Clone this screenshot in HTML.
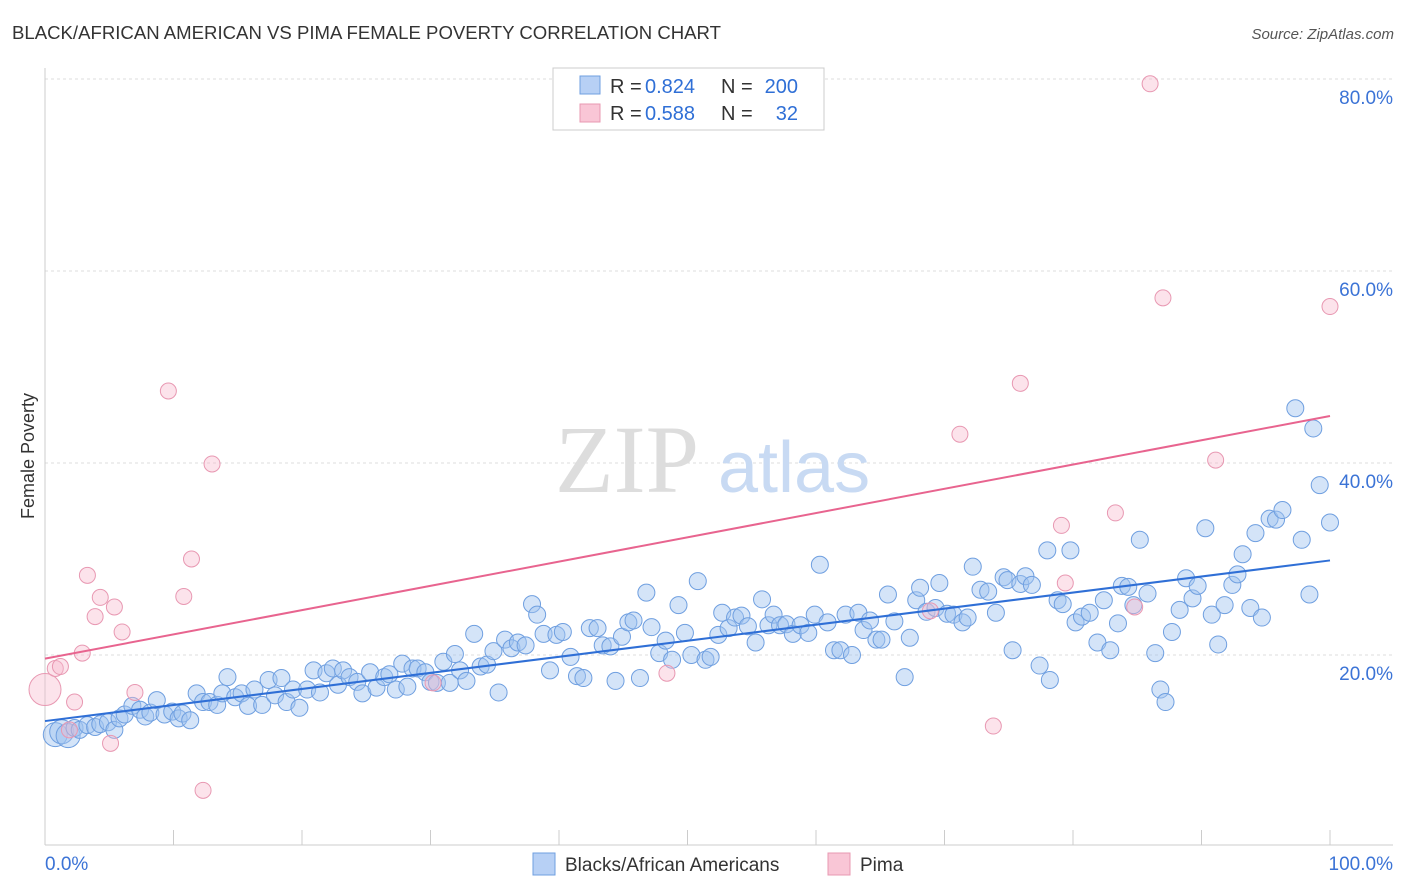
<!DOCTYPE html>
<html><head><meta charset="utf-8"><style>
body{margin:0;background:#fff;font-family:"Liberation Sans",sans-serif;}
#wrap{position:relative;width:1406px;height:892px;overflow:hidden;}
</style></head><body>
<div id="wrap">
<svg id="svg" width="1406" height="892" xmlns="http://www.w3.org/2000/svg">
<text x="12" y="39" font-size="18" fill="#333" textLength="709" lengthAdjust="spacingAndGlyphs">BLACK/AFRICAN AMERICAN VS PIMA FEMALE POVERTY CORRELATION CHART</text>
<text x="1394" y="39" font-size="15" fill="#555" font-style="italic" text-anchor="end">Source: ZipAtlas.com</text>
<text transform="translate(34,456) rotate(-90)" font-size="18" fill="#333" text-anchor="middle">Female Poverty</text>
<g id="grid"></g>
<text x="555" y="492" font-size="96" fill="#ddd" font-family="Liberation Serif,serif">ZIP</text>
<text x="718" y="492" font-size="72" fill="#c8daf3">atlas</text>
<g id="pts"></g>
<g id="lines"></g>
<g>
<rect x="553" y="68" width="271" height="62" fill="#fff" stroke="#ccc"/>
<rect x="580" y="76" width="20" height="18" fill="#b7d0f5" stroke="#6f9fe0"/>
<rect x="580" y="104" width="20" height="18" fill="#f9c6d6" stroke="#e898b2"/>
<text x="610" y="93" font-size="20" fill="#333">R =</text>
<text x="645" y="93" font-size="20" fill="#2f6fd6">0.824</text>
<text x="721" y="93" font-size="20" fill="#333">N =</text>
<text x="798" y="93" font-size="20" fill="#2f6fd6" text-anchor="end">200</text>
<text x="610" y="120" font-size="20" fill="#333">R =</text>
<text x="645" y="120" font-size="20" fill="#2f6fd6">0.588</text>
<text x="721" y="120" font-size="20" fill="#333">N =</text>
<text x="798" y="120" font-size="20" fill="#2f6fd6" text-anchor="end">32</text>
</g>
<g>
<rect x="533" y="853" width="22" height="22" fill="#b7d0f5" stroke="#6f9fe0"/>
<text x="565" y="871" font-size="19" fill="#333">Blacks/African Americans</text>
<rect x="828" y="853" width="22" height="22" fill="#f9c6d6" stroke="#e898b2"/>
<text x="860" y="871" font-size="19" fill="#333">Pima</text>
</g>
</svg>
</div>
<script>
const yTicks=[20,40,60,80];
const blueX=[0.8,1.3,1.8,2.3,2.7,3.3,3.9,4.3,4.9,5.4,5.8,6.2,6.8,7.4,7.8,8.2,8.7,9.3,9.9,10.4,10.7,11.3,11.8,12.3,12.8,13.4,13.8,14.2,14.8,15.3,15.8,16.3,16.9,17.4,17.9,18.4,18.8,19.3,19.8,20.4,20.9,21.4,21.9,22.4,22.8,23.2,23.7,24.3,24.7,25.3,25.8,26.4,26.8,27.3,27.8,28.2,28.6,29.0,29.6,30.0,30.5,31.0,31.5,31.9,32.3,32.8,33.4,33.9,34.4,34.9,35.3,35.8,36.3,36.8,37.4,37.9,38.3,38.8,39.3,39.8,40.3,40.9,41.4,41.9,42.4,43.0,43.4,44.0,44.4,44.9,45.4,45.8,46.3,46.8,47.2,47.8,48.3,48.8,49.3,49.8,50.3,50.8,51.4,51.8,52.4,52.7,53.2,53.7,54.2,54.7,55.3,55.8,56.3,56.7,57.2,57.7,58.2,58.8,59.4,59.9,60.3,60.9,61.4,61.9,62.3,62.8,63.3,63.7,64.2,64.7,65.1,65.6,66.1,66.9,67.3,67.8,68.1,68.6,69.3,69.6,70.2,70.7,71.4,71.8,72.2,72.8,73.4,74.0,74.6,74.9,75.3,75.9,76.3,76.8,77.4,78.0,78.2,78.8,79.2,79.8,80.2,80.7,81.3,81.9,82.4,82.9,83.5,83.8,84.3,84.7,85.2,85.8,86.4,86.8,87.2,87.7,88.3,88.8,89.3,89.7,90.3,90.8,91.3,91.8,92.4,92.8,93.2,93.8,94.2,94.7,95.3,95.8,96.3,97.3,97.8,98.4,98.7,99.2,100];
const blueY=[11.7,12.0,11.6,12.4,12.2,12.7,12.5,12.8,13.0,12.2,13.4,13.8,14.7,14.3,13.6,14.0,15.3,13.8,14.1,13.4,13.9,13.2,16.0,15.1,15.1,14.8,16.0,17.7,15.6,16.0,14.7,16.4,14.8,17.4,15.8,17.6,15.1,16.4,14.5,16.4,18.4,16.1,18.1,18.6,16.9,18.4,17.7,17.2,16.0,18.2,16.6,17.7,18.0,16.4,19.1,16.7,18.6,18.6,18.2,17.2,17.1,19.3,17.1,20.1,18.4,17.3,22.2,18.8,19.0,20.4,16.1,21.6,20.7,21.3,21.0,25.3,24.2,22.2,18.4,22.1,22.4,19.8,17.8,17.6,22.8,22.8,21.0,20.9,17.3,21.9,23.4,23.6,17.6,26.5,22.9,20.2,21.5,19.5,25.2,22.3,20.0,27.7,19.5,19.8,22.1,24.4,22.8,23.9,24.1,23.0,21.3,25.8,23.1,24.2,23.1,23.2,22.2,23.1,22.3,24.2,29.4,23.4,20.5,20.5,24.2,20.0,24.4,22.6,23.6,21.6,21.6,26.3,23.5,17.7,21.8,25.7,27.0,24.5,24.9,27.5,24.3,24.2,23.4,23.9,29.2,26.8,26.6,24.4,28.1,27.8,20.5,27.4,28.2,27.3,18.9,30.9,17.4,25.7,25.3,30.9,23.4,24.0,24.4,21.3,25.7,20.5,23.3,27.2,27.1,25.2,32.0,26.4,20.2,16.4,15.1,22.4,24.7,28.0,25.9,27.2,33.2,24.2,21.1,25.2,27.3,28.4,30.5,24.9,32.7,23.9,34.2,34.1,35.1,45.7,32.0,26.3,43.6,37.7,33.8];
const pimaX=[0,0.8,1.2,1.9,2.3,2.9,3.3,3.9,4.3,5.1,5.4,6.0,7.0,9.6,10.8,11.4,12.3,13.0,30.2,48.4,68.9,71.2,73.8,75.9,79.1,79.4,83.3,84.8,86.0,87.0,91.1,100];
const pimaY=[16.4,18.6,18.8,12.2,15.1,20.2,28.3,24.0,26.0,10.8,25.0,22.4,16.1,47.5,26.1,30.0,5.9,39.9,17.1,18.1,24.6,43.0,12.6,48.3,33.5,27.5,34.8,25.0,79.5,57.2,40.3,56.3];
const NS="http://www.w3.org/2000/svg";
const X0=45,X1=1330,Y0=847,PPY=9.6;
function sx(v){return X0+(X1-X0)*v/100;}
function sy(v){return Y0-v*PPY;}
function mk(tag,attrs,parent){const e=document.createElementNS(NS,tag);for(const k in attrs)e.setAttribute(k,attrs[k]);parent.appendChild(e);return e;}
const grid=document.getElementById('grid');
yTicks.forEach(t=>{
  const l=mk('line',{x1:45,x2:1393,y1:sy(t),y2:sy(t),stroke:'#ddd','stroke-dasharray':'3,3'},grid);
  
  
  const tx=mk('text',{x:1393,y:sy(t)+25,'font-size':19,fill:'#3b73d6','text-anchor':'end'},grid);
  tx.textContent=t.toFixed(1)+'%';
  
  
});
const ax=mk('line',{x1:45,x2:1393,y1:845,y2:845,stroke:'#ccc'},grid);


const ay=mk('line',{x1:45,x2:45,y1:68,y2:845,stroke:'#ccc'},grid);


for(let i=0;i<=10;i++){
  const t=mk('line',{x1:sx(i*10),x2:sx(i*10),y1:830,y2:845,stroke:'#ccc'},grid);
  
  
}
const xl0=mk('text',{x:45,y:870,'font-size':19,fill:'#3b73d6'},grid);xl0.textContent='0.0%';


const xl1=mk('text',{x:1393,y:870,'font-size':19,fill:'#3b73d6','text-anchor':'end'},grid);xl1.textContent='100.0%';


const pts=document.getElementById('pts');
blueX.forEach((x,i)=>{
  const c=mk('circle',{cx:sx(x),cy:sy(blueY[i]),r:i<3?12:8.5,fill:'rgba(160,195,240,0.45)',stroke:'#6f9fe0','stroke-width':1},pts);
  
  
});
pimaX.forEach((x,i)=>{
  const c=mk('circle',{cx:sx(x),cy:sy(pimaY[i]),r:i==0?16:8,fill:'rgba(248,185,205,0.4)',stroke:'#e898b2','stroke-width':1},pts);
  
  
});
function fit(xs,ys){const n=xs.length;let mx=0,my=0;for(let i=0;i<n;i++){mx+=xs[i];my+=ys[i];}mx/=n;my/=n;let sxy=0,sxx=0;for(let i=0;i<n;i++){sxy+=(xs[i]-mx)*(ys[i]-my);sxx+=(xs[i]-mx)**2;}const b=sxy/sxx;return [my-b*mx,b];}
const lines=document.getElementById('lines');
const fb=fit(blueX,blueY),fp=fit(pimaX,pimaY);
const lb=mk('line',{x1:sx(0),y1:sy(fb[0]),x2:sx(100),y2:sy(fb[0]+100*fb[1]),stroke:'#2f6fd6','stroke-width':2},lines);


const lp=mk('line',{x1:sx(0),y1:sy(fp[0]),x2:sx(100),y2:sy(fp[0]+100*fp[1]),stroke:'#e8648f','stroke-width':2},lines);


</script>
</body></html>
